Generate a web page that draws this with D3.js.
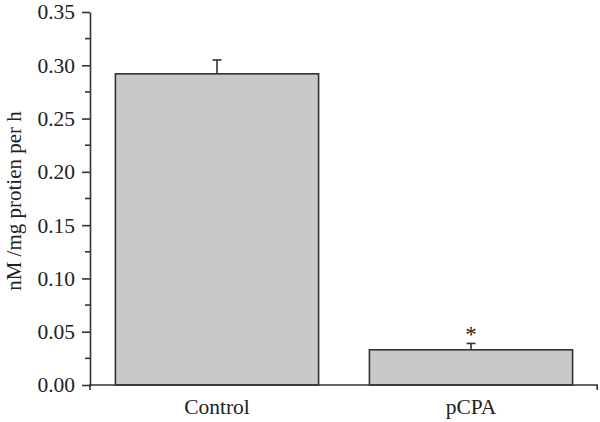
<html>
<head>
<script src="https://d3js.org/d3.v7.min.js"></script>
<style>
  body { margin: 0; background: #fff; }
  text { font-family: "Liberation Serif", "Times New Roman", serif; fill: #222; }
</style>
</head>
<body>
<svg id="chart" width="600" height="422"></svg>
<script>
const groups = ["Control", "pCPA"];
const means = [0.292, 0.033];
const errors = [0.013, 0.006];
const marks = ["", "*"];
const yTicks = [0, 0.05, 0.10, 0.15, 0.20, 0.25, 0.30, 0.35];

const svg = d3.select("svg#chart");
const x0 = 90, x1 = 598, yTop = 12, yBot = 385;

const x = d3.scaleBand().domain(groups).range([x0, x1])
            .paddingInner(0.2).paddingOuter(0.1);
const y = d3.scaleLinear().domain([0, 0.35]).range([yBot, yTop]);

const data = groups.map((g, i) => ({g: g, v: means[i], e: errors[i], m: marks[i]}));

// bars
svg.selectAll("rect.bar").data(data).join("rect")
   .attr("class", "bar")
   .attr("x", d => x(d.g))
   .attr("y", d => y(d.v))
   .attr("width", x.bandwidth())
   .attr("height", d => y(0) - y(d.v))
   .attr("fill", "#c8c8c8")
   .attr("stroke", "#333")
   .attr("stroke-width", 1.6);

// error bars (upper only)
let eb = svg.selectAll("g.err").data(data).join("g").attr("class", "err")
            .attr("stroke", "#333").attr("stroke-width", 1.6);
eb.append("line")
  .attr("x1", d => x(d.g) + x.bandwidth() / 2)
  .attr("x2", d => x(d.g) + x.bandwidth() / 2)
  .attr("y1", d => y(d.v))
  .attr("y2", d => y(d.v + d.e));
eb.append("line")
  .attr("x1", d => x(d.g) + x.bandwidth() / 2 - 4.5)
  .attr("x2", d => x(d.g) + x.bandwidth() / 2 + 4.5)
  .attr("y1", d => y(d.v + d.e))
  .attr("y2", d => y(d.v + d.e));

svg.selectAll("text.mark").data(data).join("text")
   .attr("class", "mark")
   .attr("x", d => x(d.g) + x.bandwidth() / 2)
   .attr("y", d => y(d.v + d.e) - 1)
   .attr("text-anchor", "middle")
   .attr("font-size", 23)
   .attr("fill", "#888")
   .text(d => d.m);

// y axis
let leftAxis = d3.axisLeft(y).tickValues(yTicks).tickFormat(d3.format(".2f"))
                 .tickSizeInner(8).tickSizeOuter(0).tickPadding(7);
let ya = svg.append("g").attr("transform", `translate(${x0},0)`).call(leftAxis);
ya.selectAll("text").attr("font-size", 21.5).attr("fill", "#333")
  .style("font-family", "Liberation Serif");
ya.selectAll("line").attr("stroke", "#333").attr("stroke-width", 1.6);
ya.select(".domain").attr("stroke", "#333").attr("stroke-width", 1.6);

// minor ticks
let minor = d3.range(0.025, 0.35, 0.05);
svg.append("g").selectAll("line").data(minor).join("line")
   .attr("x1", x0 - 5).attr("x2", x0)
   .attr("y1", d => y(d)).attr("y2", d => y(d))
   .attr("stroke", "#333").attr("stroke-width", 1.6);

// x axis
svg.append("line").attr("x1", x0 - 1).attr("x2", x1)
   .attr("y1", yBot).attr("y2", yBot)
   .attr("stroke", "#333").attr("stroke-width", 1.6);
svg.append("line").attr("x1", x0).attr("x2", x0)
   .attr("y1", yBot).attr("y2", yBot + 5)
   .attr("stroke", "#333").attr("stroke-width", 1.6);
svg.append("line").attr("x1", x1 - 0.8).attr("x2", x1 - 0.8)
   .attr("y1", yBot).attr("y2", yBot + 5)
   .attr("stroke", "#333").attr("stroke-width", 1.6);

svg.selectAll("text.cat").data(groups).join("text")
   .attr("class", "cat")
   .attr("x", d => x(d) + x.bandwidth() / 2)
   .attr("y", 414)
   .attr("text-anchor", "middle")
   .attr("font-size", 21.5)
   .attr("fill", "#333")
   .text(d => d);

// y label
svg.append("text")
   .attr("transform", "translate(21,201) rotate(-90)")
   .attr("text-anchor", "middle")
   .attr("font-size", 21)
   .attr("fill", "#333")
   .text("nM /mg protien per h");
</script>
</body>
</html>
